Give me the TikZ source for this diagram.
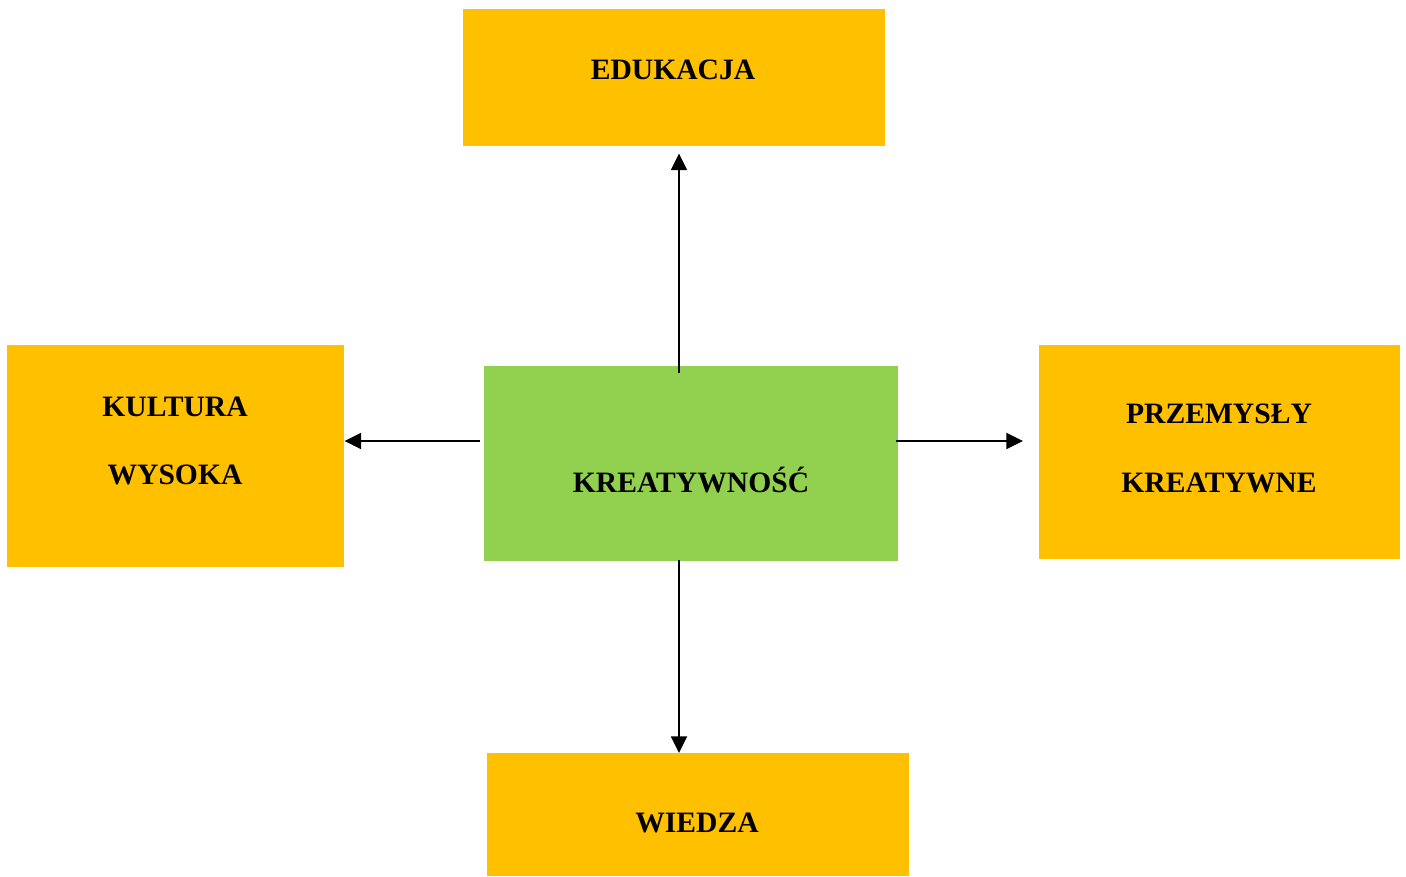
\documentclass[tikz,border=0pt]{standalone}
\usepackage{fontspec}
\setmainfont{Liberation Serif}
\usetikzlibrary{arrows.meta,calc}
\definecolor{boxorange}{HTML}{FFC000}
\definecolor{boxgreen}{HTML}{92D050}
\tikzset{
  box/.style={draw=none,inner sep=0pt,anchor=north west},
  orangebox/.style={box,fill=boxorange},
  greenbox/.style={box,fill=boxgreen},
  lbl/.style={font=\fontsize{22.2}{25}\selectfont\bfseries,inner sep=0pt,anchor=base},
  arr/.style={line width=1.4pt,-{Triangle[length=12.5pt,width=12pt]}},
}
\begin{document}
\begin{tikzpicture}[x=0.75pt,y=-0.75pt]
\useasboundingbox (0,0) rectangle (1406,876);
% boxes
\node[orangebox,minimum width=422*0.75pt,minimum height=137*0.75pt] (edu) at (463,9) {};
\node[orangebox,minimum width=337*0.75pt,minimum height=222*0.75pt] (kul) at (7,345) {};
\node[greenbox,minimum width=414*0.75pt,minimum height=195*0.75pt] (kre) at (484,366) {};
\node[orangebox,minimum width=361*0.75pt,minimum height=214*0.75pt] (prz) at (1039,345) {};
\node[orangebox,minimum width=422*0.75pt,minimum height=123*0.75pt] (wie) at (487,753) {};
% texts
\node[lbl] (tedu) at (673,79) {EDUKACJA};
\node[lbl] (tkul1) at (175,416) {KULTURA};
\node[lbl] (tkul2) at (175,484) {WYSOKA};
\node[lbl] (tkre) at (691,492) {KREATYWNOŚĆ};
\node[lbl] (tprz1) at (1219,423) {PRZEMYSŁY};
\node[lbl] (tprz2) at (1219,492) {KREATYWNE};
\node[lbl] (twie) at (697,832) {WIEDZA};
% connectors
\coordinate (vx) at (679,0);
\coordinate (hy) at (0,441);
\draw[arr,shorten <=-5.25pt,shorten >=5.25pt] (kre.north -| vx) -- (edu.south -| vx);
\draw[arr,shorten <=-1.5pt] (kre.south -| vx) -- (wie.north -| vx);
\draw[arr,shorten <=3pt] (kre.west |- hy) -- (kul.east |- hy);
\draw[arr,shorten <=-2.25pt,shorten >=12pt] (kre.east |- hy) -- (prz.west |- hy);
\end{tikzpicture}
\end{document}
